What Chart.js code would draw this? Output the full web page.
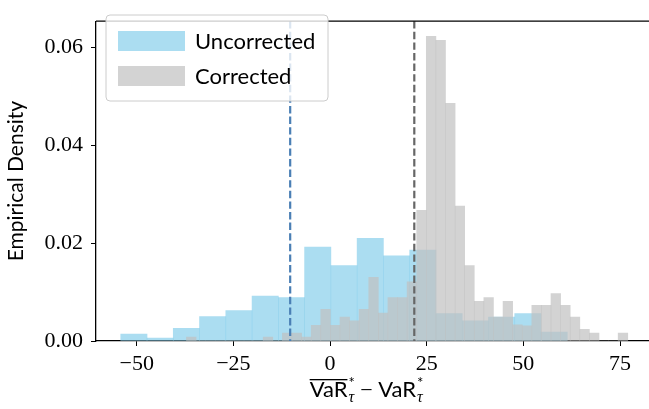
<!DOCTYPE html>
<html><head><meta charset="utf-8">
<style>html,body{margin:0;padding:0;background:#fff;}#wrap{width:649px;height:409px;position:relative;}</style>
<script src="https://cdn.jsdelivr.net/npm/chart.js@4.4.1/dist/chart.umd.min.js"></script>
</head><body><div id="wrap"><canvas id="c" width="649" height="409"></canvas></div>
<script>
// ---- data ----
const seriesLabels = ['Uncorrected', 'Corrected'];
const uncorrectedBinStart = -54.12;
const uncorrectedBinWidth = 6.793;
const uncorrectedDensity = [0.0014,0.0006,0.0026,0.0050,0.0062,0.0092,0.0089,0.0192,0.0154,0.0210,0.0174,0.0186,0.0056,0.0041,0.0049,0.0056,0.0018];
const correctedBinStart = -37.12;
const correctedBinWidth = 2.481;
const correctedDensity = [0.0008,0,0,0,0,0,0,0,0.0008,0,0.0016,0.0016,0.0008,0.0032,0.0065,0.0032,0.0049,0.0041,0.0065,0.0130,0.0057,0.0089,0.0089,0.0121,0.0267,0.0623,0.0615,0.0486,0.0276,0.0154,0.0081,0.0089,0.0049,0.0081,0.0033,0.0031,0.0073,0.0073,0.0097,0.0073,0.0049,0.0024,0.0016,0,0,0.0016];
const referenceLines = [-10.3, 21.8]; // uncorrected, corrected
const xTicks = [-50, -25, 0, 25, 50, 75];
const yTicks = [0, 0.02, 0.04, 0.06];
const yLabel = 'Empirical Density';

// ---- styles ----
const blueFill = 'rgba(135,206,235,0.7)';
const grayFill = 'rgba(192,192,192,0.7)';
const lineColors = ['#4a7fb5', '#666666'];
const X_MIN = -60.52, X_MAX = 82.5, Y_MAX = 0.0654;
const sans = 'Lato';
const serif = "'Liberation Serif'";

function toBars(start, w, vals) {
  return vals.map((v, i) => ({ x: start + w * (i + 0.5), y: v }));
}

const overlay = {
  id: 'overlay',
  afterDatasetsDraw(chart) {
    const { ctx, chartArea: a, scales } = chart;
    ctx.save();
    ctx.lineWidth = 2.2;
    ctx.setLineDash([7.4, 3.2]);
    referenceLines.forEach((v, i) => {
      const px = scales.x.getPixelForValue(v);
      ctx.strokeStyle = lineColors[i];
      ctx.beginPath();
      ctx.moveTo(px, a.top);
      ctx.lineTo(px, a.bottom);
      ctx.stroke();
    });
    ctx.restore();
  },
  afterDraw(chart) {
    const { ctx, chartArea: a } = chart;
    ctx.save();
    // top spine
    ctx.strokeStyle = '#000';
    ctx.lineWidth = 1.3;
    ctx.beginPath();
    ctx.moveTo(a.left, a.top);
    ctx.lineTo(a.right, a.top);
    ctx.stroke();

    // legend
    const lx = 106, ly = 15, lw = 222, lh = 86, r = 4;
    ctx.beginPath();
    ctx.moveTo(lx + r, ly);
    ctx.arcTo(lx + lw, ly, lx + lw, ly + lh, r);
    ctx.arcTo(lx + lw, ly + lh, lx, ly + lh, r);
    ctx.arcTo(lx, ly + lh, lx, ly, r);
    ctx.arcTo(lx, ly, lx + lw, ly, r);
    ctx.closePath();
    ctx.fillStyle = 'rgba(255,255,255,0.8)';
    ctx.fill();
    ctx.strokeStyle = '#cccccc';
    ctx.lineWidth = 1;
    ctx.stroke();
    const fills = [blueFill, grayFill];
    const rowY = [41, 76];
    ctx.font = `22px ${sans}`;
    ctx.textBaseline = 'middle';
    ctx.textAlign = 'left';
    seriesLabels.forEach((t, i) => {
      ctx.fillStyle = fills[i];
      ctx.fillRect(118, rowY[i] - 10, 67, 20);
      ctx.fillStyle = '#000';
      ctx.fillText(t, 195, rowY[i] + 1);
    });

    // x label:  overline VaR*_tau  -  VaR*_tau
    const fs = 22, small = 15;
    const main = `${fs}px ${sans}`, sm = `${small}px ${sans}`, smIt = `italic ${small + 1}px ${serif}`, mathF = `${fs}px ${serif}`;
    const parts = [
      { t: 'VaR', f: main, over: true },
      { sup: '*', sub: '\u03C4' },
      { t: ' \u2212 ', f: mathF },
      { t: 'VaR', f: main },
      { sup: '*', sub: '\u03C4' }
    ];
    const widths = parts.map(p => {
      if (p.t) { ctx.font = p.f; return ctx.measureText(p.t).width; }
      ctx.font = sm; const w1 = ctx.measureText(p.sup).width;
      ctx.font = smIt; const w2 = ctx.measureText(p.sub).width;
      return Math.max(w1, w2) + 1;
    });
    const total = widths.reduce((s, w) => s + w, 0);
    let x = (a.left + a.right) / 2 - total / 2 - 6;
    const base = 397;
    ctx.fillStyle = '#000';
    ctx.textBaseline = 'alphabetic';
    parts.forEach((p, i) => {
      if (p.t) {
        ctx.font = p.f;
        ctx.fillText(p.t, x, base);
        if (p.over) {
          ctx.fillRect(x, base - 18, widths[i], 1.3);
        }
      } else {
        ctx.font = sm;
        ctx.fillText(p.sup, x + 1, base - 9);
        ctx.font = smIt;
        ctx.fillText(p.sub, x + 1, base + 5);
      }
      x += widths[i];
    });
    ctx.restore();
  }
};

const tickGrid = { display: true, drawOnChartArea: false, drawTicks: true, tickLength: 5, tickColor: '#000', tickWidth: 1, offset: false };

new Chart(document.getElementById('c').getContext('2d'), {
  type: 'bar',
  data: {
    datasets: [
      { label: seriesLabels[0], data: toBars(uncorrectedBinStart, uncorrectedBinWidth, uncorrectedDensity), xAxisID: 'x', yAxisID: 'y',
        backgroundColor: blueFill, borderWidth: 0, barPercentage: 1, categoryPercentage: 1, grouped: false, order: 1 },
      { label: seriesLabels[1], data: toBars(correctedBinStart, correctedBinWidth, correctedDensity), xAxisID: 'x2', yAxisID: 'y',
        backgroundColor: grayFill, borderWidth: 0, barPercentage: 1, categoryPercentage: 1, grouped: false, order: 0 }
    ]
  },
  options: {
    responsive: false, animation: false, devicePixelRatio: 1,
    layout: { padding: { top: 8, right: 0, left: 0, bottom: 0 } },
    plugins: { legend: { display: false }, tooltip: { enabled: false } },
    scales: {
      x: {
        type: 'linear', position: 'bottom', min: X_MIN, max: X_MAX, offset: false,
        afterFit(s) { s.height = 68; },
        afterBuildTicks(s) { s.ticks = xTicks.map(v => ({ value: v })); },
        ticks: { font: { family: 'Liberation Serif', size: 22 }, color: '#000', padding: 5, maxRotation: 0, autoSkip: false,
          callback: v => String(v).replace('-', '\u2212') },
        grid: tickGrid,
        border: { display: true, color: '#000', width: 1.3 }
      },
      x2: {
        type: 'linear', position: 'bottom', display: false, min: X_MIN, max: X_MAX, offset: false,
        afterBuildTicks(s) { s.ticks = xTicks.map(v => ({ value: v })); }
      },
      y: {
        type: 'linear', position: 'left', min: 0, max: Y_MAX,
        afterFit(s) { s.width = 96; },
        afterBuildTicks(s) { s.ticks = yTicks.map(v => ({ value: v })); },
        ticks: { font: { family: 'Liberation Serif', size: 22 }, color: '#000', padding: 8, callback: v => Number(v).toFixed(2) },
        title: { display: true, text: yLabel, font: { family: sans, size: 21 }, color: '#000', padding: { top: 4, bottom: 0 } },
        grid: tickGrid,
        border: { display: true, color: '#000', width: 1.3 }
      }
    }
  },
  plugins: [overlay]
});
</script></body></html>
